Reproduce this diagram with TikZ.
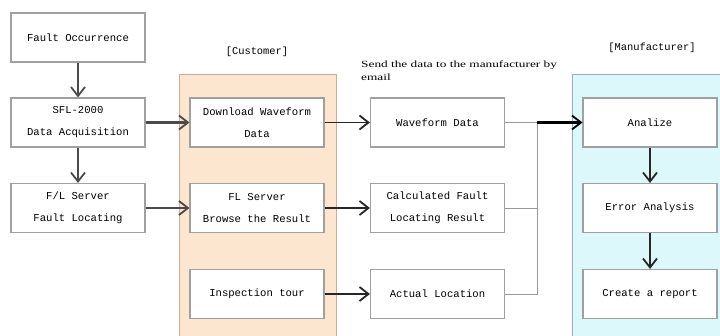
\documentclass[tikz,border=0pt]{standalone}
\usepackage{fontspec}
\setmonofont{Liberation Mono}
\setmainfont{Liberation Serif}
\newfontfamily\mailfont[FakeStretch=1.4]{Liberation Serif}
\usetikzlibrary{arrows.meta}
\definecolor{boxline}{HTML}{A0A0A0}
\definecolor{custfill}{HTML}{FDE6CF}
\definecolor{custline}{HTML}{C9AF98}
\definecolor{manfill}{HTML}{DDF8FB}
\definecolor{manline}{HTML}{8FB3B8}
\definecolor{heavy}{HTML}{4A4A4A}
\begin{document}
\begin{tikzpicture}[x=1pt,y=-1pt,
  stepbox/.style={draw=boxline,line width=1.1pt,fill=white,minimum width=134pt,
    minimum height=49pt,inner sep=0pt,align=center,
    font=\ttfamily\fontsize{10.6}{22}\selectfont},
  lane/.style={line width=1pt},
  title/.style={font=\ttfamily\fontsize{10.4}{12}\selectfont,inner sep=0pt},
  barb/.style={-{Straight Barb[length=9pt,width=14pt,line width=1.8pt]}},
  thickflow/.style={barb,draw=heavy,line width=2.4pt},
  flow/.style={barb,draw=black!85,line width=1.5pt},
  feed/.style={draw=black!40,line width=1pt}]
\useasboundingbox (0,0) rectangle (720,335);

% swim lanes
\filldraw[lane,fill=custfill,draw=custline] (179,74) rectangle (336,345);
\filldraw[lane,fill=manfill,draw=manline] (572,74) rectangle (730,345);
\node[title] (custhead) at (257,52) {[Customer]};
\node[title] (manhead) at (652,48) {[Manufacturer]};
\node[anchor=north west,inner sep=0pt,align=left,
  font=\mailfont\fontsize{9.5}{13}\selectfont] (mail) at (361,61)
  {Send the data to the manufacturer by\\email};

% site side
\node[stepbox] (occ) at (78,37.5) {Fault Occurrence};
\node[stepbox] (acq) at (78,122.5) {SFL-2000\\Data Acquisition};
\node[stepbox] (loc) at (78,208) {F/L Server\\Fault Locating};

% customer
\node[stepbox] (dl) at (257,122.5) {Download Waveform\\Data};
\node[stepbox] (browse) at (257,208) {FL Server\\Browse the Result};
\node[stepbox] (tour) at (257,294) {Inspection tour};

% data sent
\node[stepbox] (wave) at (437.5,122.5) {Waveform Data};
\node[stepbox] (calc) at (437.5,208) {Calculated Fault\\Locating Result};
\node[stepbox] (actual) at (437.5,294) {Actual Location};

% manufacturer
\node[stepbox] (ana) at (650,122.5) {Analize};
\node[stepbox] (err) at (650,208) {Error Analysis};
\node[stepbox] (rep) at (650,294) {Create a report};

\coordinate (join) at (537,122.5);

\draw[thickflow] (occ) -- (acq);
\draw[thickflow] (acq) -- (loc);
\draw[thickflow] (acq) -- (dl);
\draw[thickflow] (loc) -- (browse);
\draw[flow] (dl) -- (wave);
\draw[flow] (browse) -- (calc);
\draw[flow] (tour) -- (actual);

\draw[feed] (wave.east) -- (join);
\draw[feed] (calc.east) -| (join);
\draw[feed] (actual.east) -| (join);
\draw[thickflow,draw=black] (join) -- (ana);

\draw[flow] (ana) -- (err);
\draw[flow] (err) -- (rep);
\end{tikzpicture}
\end{document}
